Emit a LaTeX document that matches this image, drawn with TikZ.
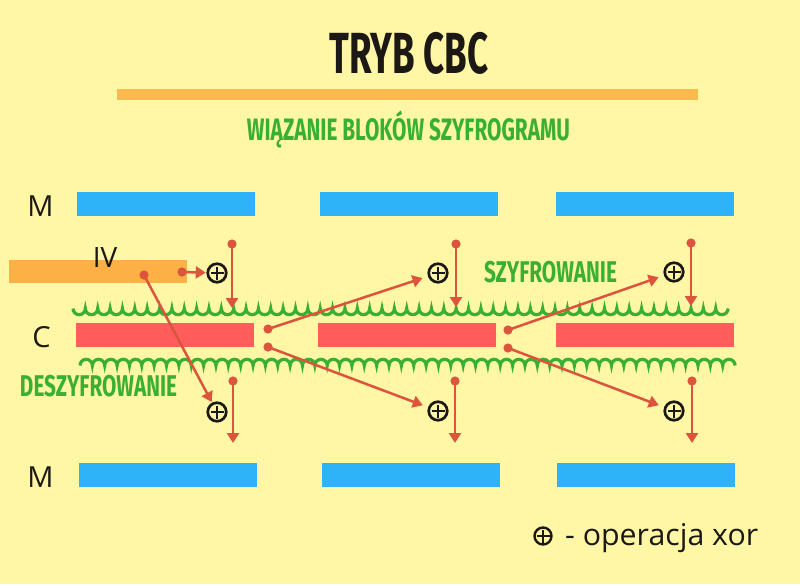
\documentclass[tikz,border=0pt]{standalone}
\usepackage{fontspec}
\usepackage{graphicx}
\setmainfont{Open Sans}
\newfontfamily\headfont{Fira Sans}
\usetikzlibrary{arrows.meta}
\definecolor{bgyellow}{RGB}{255,246,166}
\definecolor{barorange}{RGB}{253,184,78}
\definecolor{ivorange}{RGB}{252,176,70}
\definecolor{mblue}{RGB}{46,178,248}
\definecolor{cred}{RGB}{255,92,92}
\definecolor{arrred}{RGB}{221,84,60}
\definecolor{tgreen}{RGB}{58,176,50}
\definecolor{ink}{RGB}{28,24,20}
\tikzset{
  block/.style={inner sep=0pt, outer sep=0pt, minimum height=24pt},
  mblock/.style={block, fill=mblue, minimum width=178pt},
  cblock/.style={block, fill=cred, minimum width=178pt},
  xorn/.style={circle, draw=ink, line width=2.7pt, minimum size=18.5pt, inner sep=0pt, outer sep=2pt,
    path picture={\draw[ink, line width=2.7pt]
      ([xshift=-6.5pt]path picture bounding box.center) -- ([xshift=6.5pt]path picture bounding box.center)
      ([yshift=-6.5pt]path picture bounding box.center) -- ([yshift=6.5pt]path picture bounding box.center);}},
  arrline/.style={draw=arrred, line width=2.5pt, -{Triangle[length=10pt,width=12pt]}},
  dotmark/.style={fill=arrred},
  wave/.style={draw=tgreen, line width=3.2pt},
  lab/.style={text=ink, inner sep=0pt, anchor=base, font=\fontsize{29}{29}\selectfont},
  greentext/.style={text=tgreen, inner sep=0pt, anchor=base},
}
\begin{document}
\begin{tikzpicture}[x=1pt,y=-1pt]
\useasboundingbox (0,0) rectangle (800,584);
\fill[bgyellow] (0,0) rectangle (800,584);

% title
\node[text=ink, inner sep=0pt, anchor=base] (title) at (409,73)
  {\resizebox{159pt}{\height}{\headfont\bfseries\fontsize{58}{58}\selectfont TRYB CBC}};
\node[fill=barorange, inner sep=0pt, minimum width=581pt, minimum height=11pt] (bar) at (407.5,94.5) {};
\node[greentext] (subtitle) at (408.5,140)
  {\resizebox{323pt}{\height}{\headfont\bfseries\fontsize{31}{31}\selectfont WIĄZANIE BLOKÓW SZYFROGRAMU}};

% blocks
\node[mblock] (m1) at (165.5,204) {};
\node[mblock] (m2) at (408.5,204) {};
\node[mblock] (m3) at (644.5,204) {};
\node[fill=ivorange, inner sep=0pt, minimum width=178pt, minimum height=23pt] (iv) at (98,271.5) {};
\node[cblock] (c1) at (164.5,335) {};
\node[cblock] (c2) at (407,335) {};
\node[cblock] (c3) at (644.5,335) {};
\node[mblock] (mb1) at (168,475) {};
\node[mblock] (mb2) at (411,475) {};
\node[mblock] (mb3) at (645.5,475) {};

% row labels
\node[lab] (mtop) at (40.5,216) {M};
\node[lab, font=\fontsize{28}{28}\selectfont] (ivlab) at (105,267) {IV};
\node[lab] (clab) at (41.5,347) {C};
\node[lab] (mbot) at (40.5,487) {M};

% waves (scallops)
\draw[wave] (73,308.5) \foreach \i in {1,...,53} { arc[start angle=180, end angle=0, radius=6.18] };
\draw[wave] (80,365.5) \foreach \i in {1,...,53} { arc[start angle=180, end angle=360, radius=6.18] };

% green labels
\node[greentext] (enc) at (550.5,282)
  {\resizebox{133pt}{\height}{\headfont\bfseries\fontsize{30}{30}\selectfont SZYFROWANIE}};
\node[greentext] (dec) at (98.5,396)
  {\resizebox{157pt}{\height}{\headfont\bfseries\fontsize{30}{30}\selectfont DESZYFROWANIE}};

% xor nodes
\node[xorn] (x1t) at (217,273) {};
\node[xorn] (x2t) at (438,273) {};
\node[xorn] (x3t) at (674,272) {};
\node[xorn] (x1b) at (217,412) {};
\node[xorn] (x2b) at (438,411) {};
\node[xorn] (x3b) at (674,411) {};

% dot coordinates
\coordinate (iva) at (182,272);
\coordinate (ivb) at (144,275);
\coordinate (c1u) at (268,329);
\coordinate (c1d) at (268,347);
\coordinate (c2u) at (508,330);
\coordinate (c2d) at (508,348);
\coordinate (v1s) at (232,244); \coordinate (v1e) at (232,308);
\coordinate (v2s) at (456,244); \coordinate (v2e) at (456,307);
\coordinate (v3s) at (691,243); \coordinate (v3e) at (691,306);
\coordinate (w1s) at (233,381); \coordinate (w1e) at (233,443);
\coordinate (w2s) at (455,381); \coordinate (w2e) at (455,443);
\coordinate (w3s) at (692,381); \coordinate (w3e) at (692,443);

% arrows
\draw[arrline] (iva) -- (x1t);
\draw[arrline] (ivb) -- (x1b);
\draw[arrline, shorten >=5pt] (c1u) -- (x2t);
\draw[arrline, shorten >=5pt] (c1d) -- (x2b);
\draw[arrline, shorten >=5pt] (c2u) -- (x3t);
\draw[arrline, shorten >=5pt] (c2d) -- (x3b);
\foreach \s/\e in {v1s/v1e, v2s/v2e, v3s/v3e, w1s/w1e, w2s/w2e, w3s/w3e}
  \draw[arrline] (\s) -- (\e);
\foreach \p in {iva, ivb, c1u, c1d, c2u, c2d, v1s, v2s, v3s, w1s, w2s, w3s}
  \fill[dotmark] (\p) circle (4.6);

% legend
\node[xorn, minimum size=17pt, line width=2.4pt] (legx) at (543,536) {};
\node[text=ink, inner sep=0pt, anchor=base west] (legtext) at (565,545)
  {\resizebox{193pt}{\height}{\fontsize{30}{30}\selectfont - operacja xor}};
\end{tikzpicture}
\end{document}
